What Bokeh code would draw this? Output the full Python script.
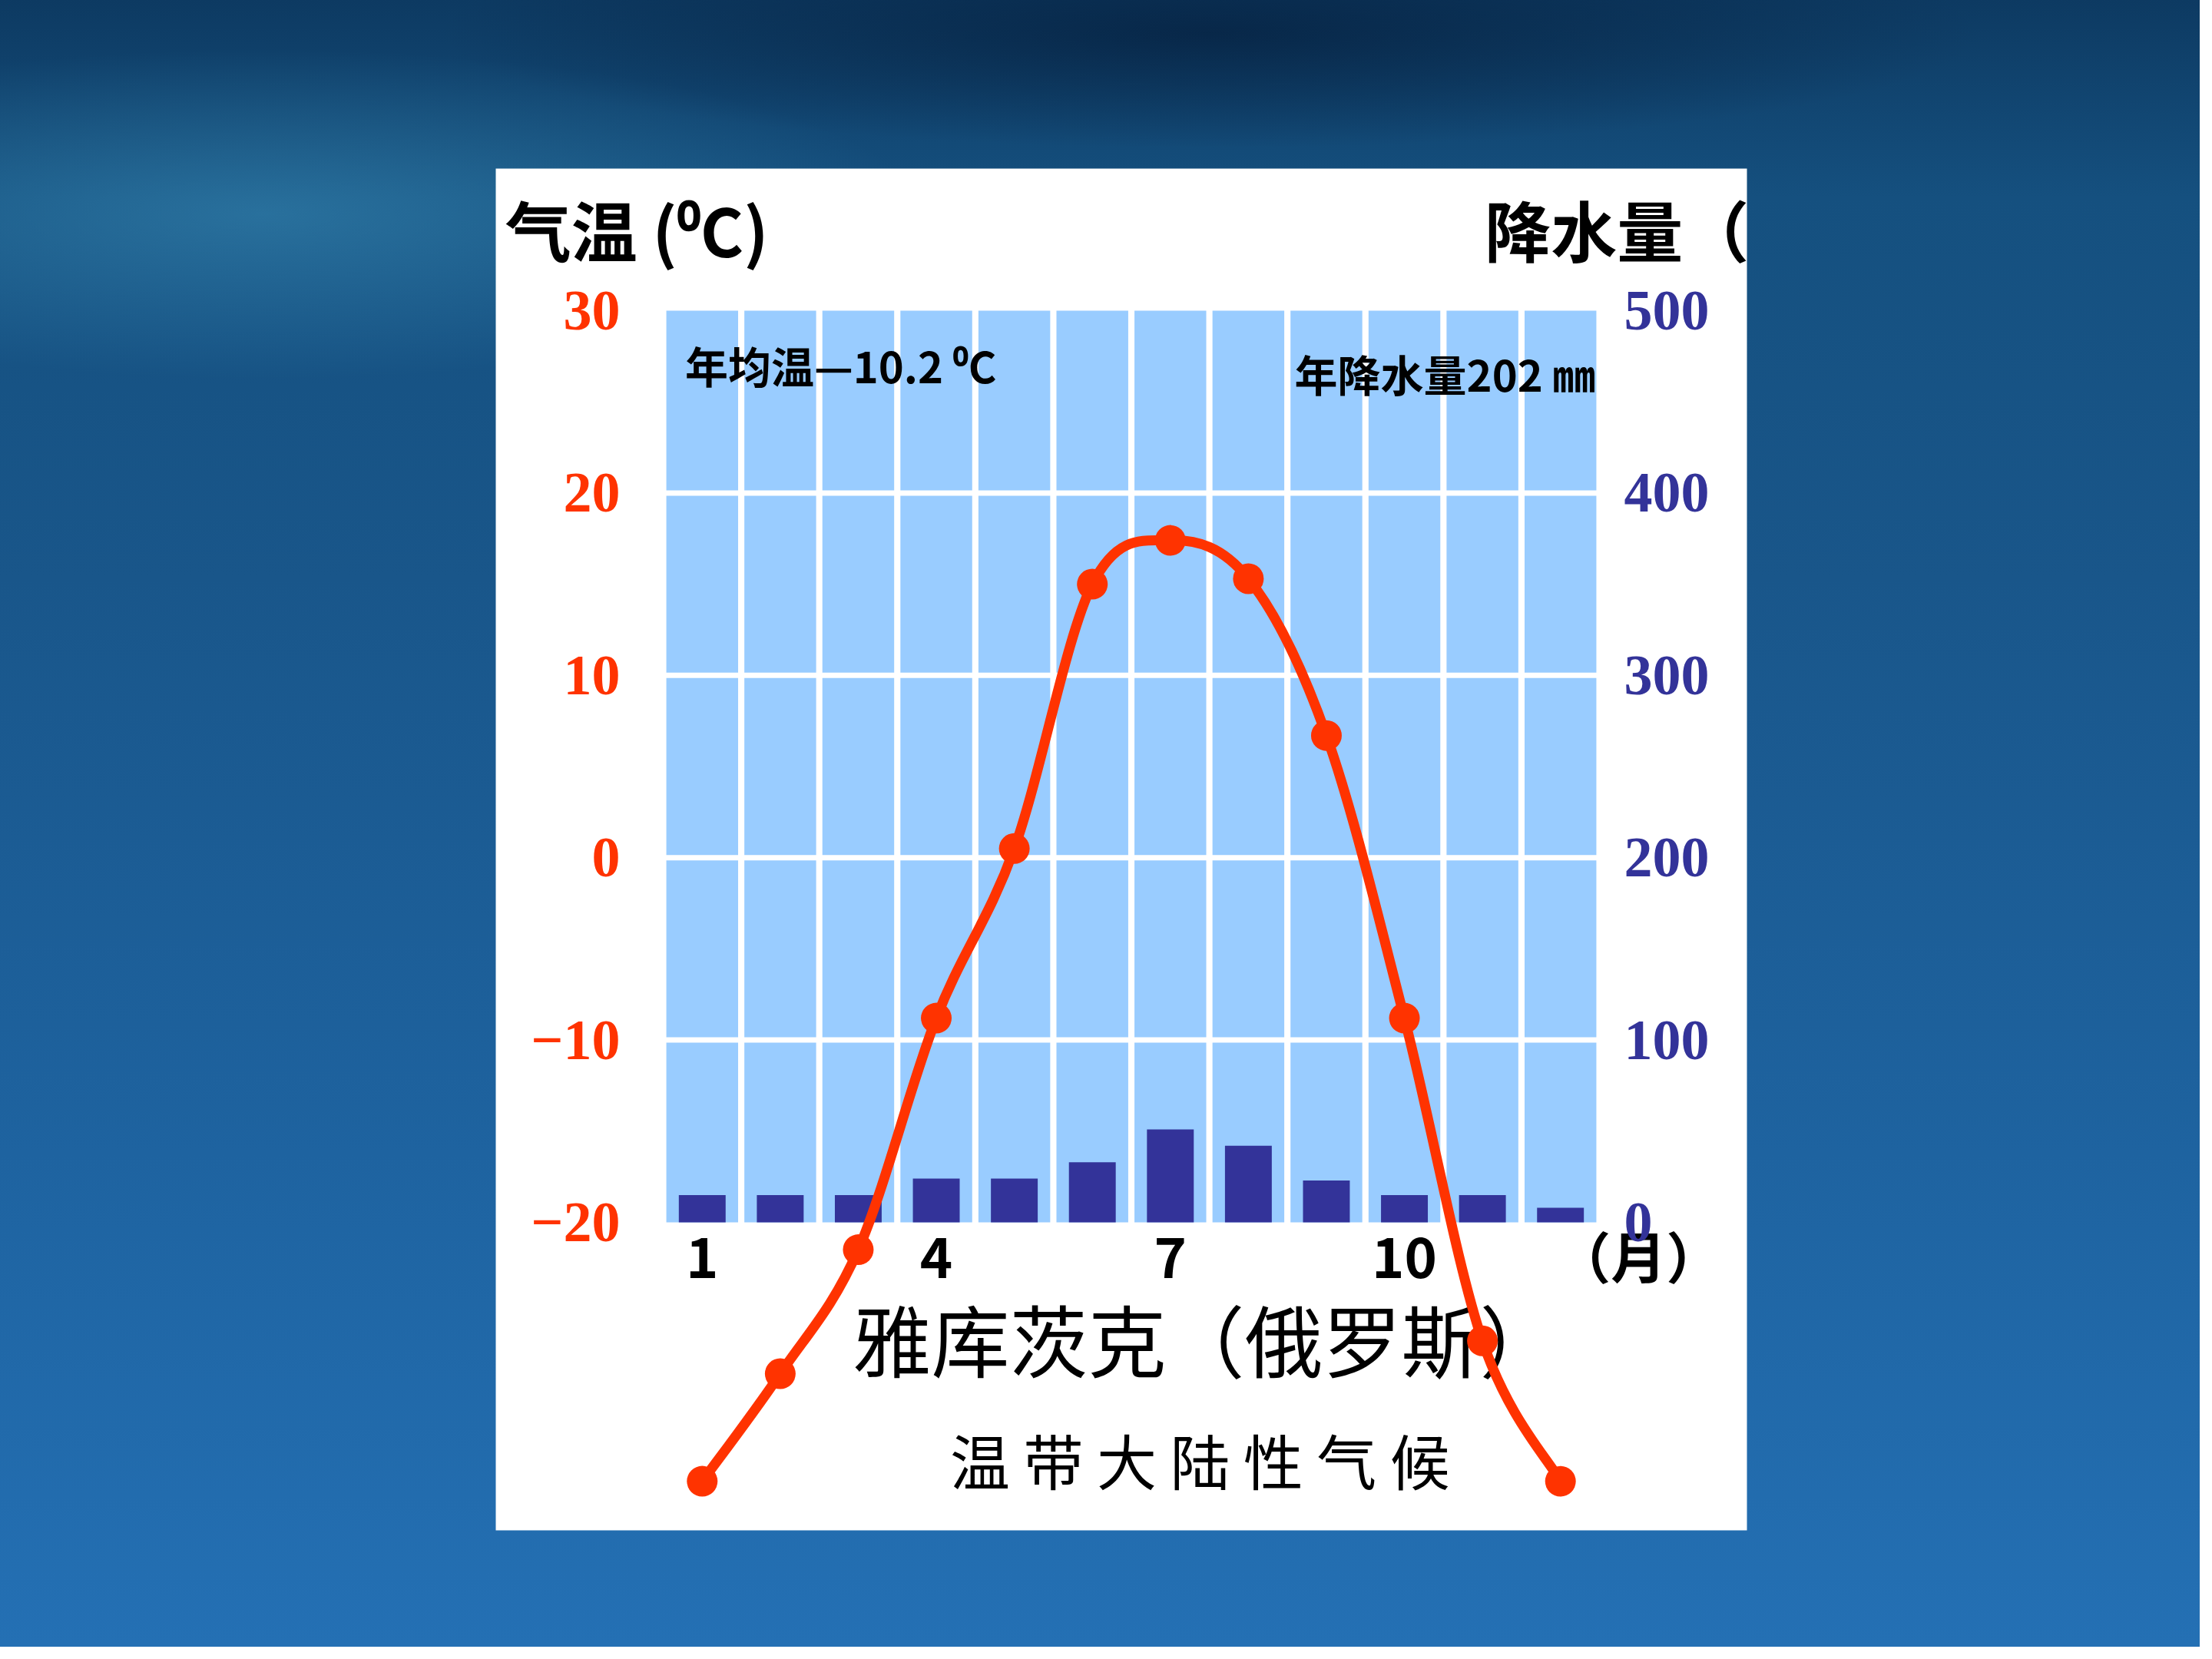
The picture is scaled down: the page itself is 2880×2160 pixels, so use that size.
import numpy as np
from bokeh.plotting import figure
from bokeh.models import Range1d, LinearAxis, FixedTicker
from bokeh.core.properties import value
from bokeh.embed import file_html
from bokeh.resources import INLINE

# ---------------- data ----------------
months = [1, 2, 3, 4, 5, 6, 7, 8, 9, 10, 11, 12]
temperature = [-34.2, -28.3, -21.5, -8.8, 0.5, 15.0, 17.4, 15.3, 6.7, -8.8, -26.5, -34.2]
precipitation = [15, 15, 15, 24, 24, 33, 51, 42, 23, 15, 15, 8]
temp_ticks = [-20, -10, 0, 10, 20, 30]
precip_ticks = [0, 100, 200, 300, 400, 500]
month_ticks = [1, 4, 7, 10]
month_unit_tick = 13
month_unit = "（月）"
title_temp = "气温 (⁰C)"
title_precip = "降水量（mm）"
note_temp = "年均温—10.2 ⁰C"
note_precip = "年降水量202 ㎜"
station = "雅库茨克（俄罗斯）"
climate = "温 带 大 陆 性 气 候"

# ---------------- layout ----------------
T_LO, T_HI = temp_ticks[0], temp_ticks[-1]
P_LO, P_HI = precip_ticks[0], precip_ticks[-1]
X_LO, X_HI = months[0] - 0.5, months[-1] + 0.5

W, H = 2864, 2144
BOX_L, BOX_T, BOX_R, BOX_B = 645, 219, 2274, 1992      # white card (frame)
PLOT_L, PLOT_R, PLOT_T, PLOT_B = 863, 2082, 404, 1591  # light-blue chart area

xpp = (X_HI - X_LO) / (PLOT_R - PLOT_L)
ypp = (T_HI - T_LO) / (PLOT_B - PLOT_T)
x_start = X_LO - (PLOT_L - BOX_L) * xpp
x_end = X_HI + (BOX_R - PLOT_R) * xpp
y_end = T_HI + (PLOT_T - BOX_T) * ypp
y_start = T_LO - (BOX_B - PLOT_B) * ypp
k = (P_HI - P_LO) / (T_HI - T_LO)

RED = "#FF3300"
NAVY = "#333399"
LIGHT = "#99CCFF"
CJK = "Noto Sans CJK SC"

bg = ("radial-gradient(ellipse 30% 10% at 12% 13%, rgba(70,160,200,0.4), rgba(70,160,200,0) 100%), "
      "radial-gradient(ellipse 35% 7% at 55% 2%, rgba(5,30,60,0.7), rgba(5,30,60,0) 100%), "
      "linear-gradient(180deg, #0d3a62 0%, #15507f 12%, #19568a 35%, #1e63a0 70%, #2470b4 100%)")

p = figure(width=W, height=H, x_range=Range1d(x_start, x_end), y_range=Range1d(y_start, y_end),
           output_backend="svg", toolbar_location=None,
           x_axis_location=None, y_axis_location=None,
           min_border_left=BOX_L, min_border_right=W - BOX_R,
           min_border_top=BOX_T, min_border_bottom=H - BOX_B,
           background_fill_color="white", border_fill_color=None,
           outline_line_color=None,
           styles={"background": bg})
p.extra_y_ranges = {"precip": Range1d(P_LO + (y_start - T_LO) * k, P_LO + (y_end - T_LO) * k)}
p.grid.visible = False

# light blue month columns (white gaps between them)
p.vbar(x=months, top=T_HI, bottom=T_LO, width=0.92, fill_color=LIGHT, line_color=None)
# white horizontal grid lines
inner = temp_ticks[1:-1]
p.segment(x0=X_LO, x1=X_HI, y0=inner, y1=inner, line_color="white", line_width=7)

# precipitation bars
p.vbar(x=months, top=precipitation, bottom=P_LO, width=0.6, y_range_name="precip",
       fill_color=NAVY, line_color=None)

# texts
p.text(x=[x_start + 0.12], y=[34.5], text=[title_temp], text_font=value(CJK), text_font_size="86px",
       text_font_style="bold", text_color="black", text_align="left", text_baseline="middle")
p.text(x=[11.03], y=[34.5], text=[title_precip], text_font=value(CJK), text_font_size="86px",
       text_font_style="bold", text_color="black", text_align="left", text_baseline="middle")
p.text(x=[0.78], y=[27.05], text=[note_temp], text_font=value(CJK), text_font_size="56px",
       text_font_style="bold", text_color="black", text_align="left", text_baseline="middle")
p.text(x=[12.45], y=[26.6], text=[note_precip], text_font=value(CJK), text_font_size="56px",
       text_font_style="bold", text_color="black", text_align="right", text_baseline="middle")
p.text(x=[7.45], y=[-26.3], text=[station], text_font=value(CJK), text_font_size="102px",
       text_color="black", text_align="center", text_baseline="middle")
p.text(x=[7.38], y=[-33.0], text=[climate], text_font=value(CJK), text_font_size="78px",
       text_color="black", text_align="center", text_baseline="middle")

# smooth temperature curve (Catmull-Rom as cubic Bezier segments through the data points)
xs = np.array(months, float)
ys = np.array(temperature, float)
xp = np.concatenate([[xs[0]], xs, [xs[-1]]])
yp = np.concatenate([[ys[0]], ys, [ys[-1]]])
n = len(xs)
cx0 = xp[1:n] + (xp[2:n + 1] - xp[0:n - 1]) / 6
cy0 = yp[1:n] + (yp[2:n + 1] - yp[0:n - 1]) / 6
cx1 = xp[2:n + 1] - (xp[3:n + 2] - xp[1:n]) / 6
cy1 = yp[2:n + 1] - (yp[3:n + 2] - yp[1:n]) / 6
p.bezier(x0=xs[:-1], y0=ys[:-1], x1=xs[1:], y1=ys[1:], cx0=cx0, cy0=cy0, cx1=cx1, cy1=cy1,
         line_color=RED, line_width=13, line_cap="round")
p.scatter(x=months, y=temperature, size=40, fill_color=RED, line_color=None)

# axes drawn inside the card with fixed locations
left_ax = LinearAxis(ticker=FixedTicker(ticks=temp_ticks), fixed_location=X_LO,
                     axis_line_color=None, major_tick_line_color=None, minor_tick_line_color=None,
                     major_label_text_color=RED, major_label_text_font="Liberation Serif",
                     major_label_text_font_style="bold", major_label_text_font_size="74px",
                     major_label_standoff=50)
p.add_layout(left_ax, "left")

right_ax = LinearAxis(y_range_name="precip", ticker=FixedTicker(ticks=precip_ticks), fixed_location=X_HI,
                      axis_line_color=None, major_tick_line_color=None, minor_tick_line_color=None,
                      major_label_text_color=NAVY, major_label_text_font="Liberation Serif",
                      major_label_text_font_style="bold", major_label_text_font_size="74px",
                      major_label_standoff=26)
p.add_layout(right_ax, "right")

bottom_ax = LinearAxis(ticker=FixedTicker(ticks=month_ticks + [month_unit_tick]), fixed_location=T_LO,
                       major_label_overrides={month_unit_tick: month_unit},
                       axis_line_color=None, major_tick_line_color=None, minor_tick_line_color=None,
                       major_label_text_color="black", major_label_text_font=CJK,
                       major_label_text_font_style="bold", major_label_text_font_size="72px",
                       major_label_standoff=-18)
p.add_layout(bottom_ax, "below")

open("out.html", "w").write(file_html(p, INLINE))
